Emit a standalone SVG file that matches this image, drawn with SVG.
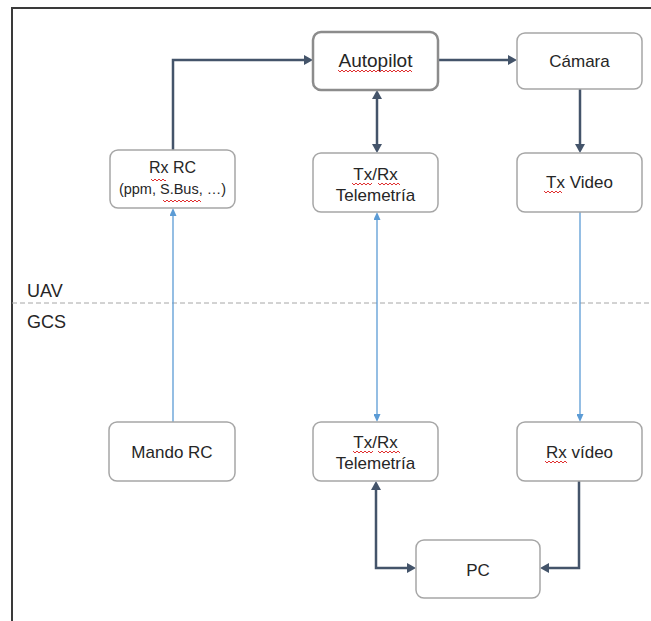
<svg xmlns="http://www.w3.org/2000/svg" width="651" height="621" viewBox="0 0 651 621">
  <style>
    .box { fill: #ffffff; stroke: #a6a6a6; stroke-width: 1.5; }
    .box-main { fill: #ffffff; stroke: #8c8c8c; stroke-width: 2.5; }
    .lbl { font-family: "Liberation Sans", Arial, sans-serif; font-size: 17px; fill: #262626; text-anchor: middle; }
    .side { font-family: "Liberation Sans", Arial, sans-serif; font-size: 18px; fill: #262626; }
    .link { fill: none; stroke: #44546a; stroke-width: 2.5; }
    .radio { fill: none; stroke: #5b9bd5; stroke-width: 1.3; }
    .squig { fill: none; stroke: #e03030; stroke-width: 1; }
  </style>
  <defs>
    <marker id="dark" viewBox="0 0 9 10" refX="0" refY="5" markerWidth="9" markerHeight="10" markerUnits="userSpaceOnUse" orient="auto-start-reverse">
      <path d="M0,0 L9,5 L0,10 z" fill="#44546a"/>
    </marker>
    <marker id="blue" viewBox="0 0 8 7" refX="0" refY="3.5" markerWidth="8" markerHeight="7" markerUnits="userSpaceOnUse" orient="auto-start-reverse">
      <path d="M0,0 L8,3.5 L0,7 z" fill="#5b9bd5"/>
    </marker>
  </defs>

  <rect width="651" height="621" fill="#ffffff"/>
  <!-- frame -->
  <path d="M12,621 V8 H651" fill="none" stroke="#3a3a3a" stroke-width="2"/>

  <!-- UAV / GCS divider -->
  <line x1="12" y1="303" x2="651" y2="303" stroke="#a6a6a6" stroke-width="1" stroke-dasharray="5 3"/>
  <text class="side" x="27" y="297">UAV</text>
  <text class="side" x="27" y="328">GCS</text>

  <!-- connectors -->
  <g id="connectors">
    <path class="link" d="M173,150 V60 H304" marker-end="url(#dark)"/>
    <path class="link" d="M438,60 H508" marker-end="url(#dark)"/>
    <path class="link" d="M377,99 V144" marker-start="url(#dark)" marker-end="url(#dark)"/>
    <path class="link" d="M580,89 V144" marker-end="url(#dark)"/>
    <path class="link" d="M376,490 V568 H407" marker-start="url(#dark)" marker-end="url(#dark)"/>
    <path class="link" d="M579,481 V568 H549" marker-end="url(#dark)"/>
    <path class="radio" d="M173,422 V216" marker-end="url(#blue)"/>
    <path class="radio" d="M377,220 V414" marker-start="url(#blue)" marker-end="url(#blue)"/>
    <path class="radio" d="M580,212 V414" marker-end="url(#blue)"/>
  </g>

  <!-- UAV side -->
  <g id="autopilot">
    <rect class="box-main" x="313" y="32" width="125" height="58" rx="8"/>
    <text class="lbl" x="375.5" y="67" style="font-size:19px">Autopilot</text>
    <path class="squig" d="M338,70 l2,2 l2,-2 l2,2 l2,-2 l2,2 l2,-2 l2,2 l2,-2 l2,2 l2,-2 l2,2 l2,-2 l2,2 l2,-2 l2,2 l2,-2 l2,2 l2,-2 l2,2 l2,-2 l2,2 l2,-2 l2,2 l2,-2 l2,2 l2,-2 l2,2 l2,-2 l2,2 l2,-2 l2,2 l2,-2 l2,2 l2,-2 l2,2 l2,-2 l2,2"/>
  </g>
  <g id="camara">
    <rect class="box" x="517" y="33" width="125" height="56" rx="8"/>
    <text class="lbl" x="579.5" y="67">Cámara</text>
  </g>
  <g id="rx-rc">
    <rect class="box" x="110" y="150" width="125" height="58" rx="8"/>
    <text class="lbl" x="172.5" y="173" style="font-size:16px">Rx RC</text>
    <text class="lbl" x="172.5" y="194" style="font-size:14.5px">(ppm, S.Bus, …)</text>
    <path class="squig" d="M151,179 l2,2 l2,-2 l2,2 l2,-2 l2,2 l2,-2 l2,2 l1,-1"/>
    <path class="squig" d="M163,200 l2,2 l2,-2 l2,2 l2,-2 l2,2 l2,-2 l2,2 l2,-2 l2,2 l2,-2 l2,2 l2,-2 l2,2 l2,-2 l2,2 l2,-2 l2,2 l2,-2 l2,2"/>
  </g>
  <g id="telemetria-uav">
    <rect class="box" x="313" y="153" width="125" height="59" rx="8"/>
    <text class="lbl" x="375.5" y="180">Tx/Rx</text>
    <text class="lbl" x="375.5" y="201">Telemetría</text>
    <path class="squig" d="M352,183 l2,2 l2,-2 l2,2 l2,-2 l2,2 l2,-2 l2,2 l2,-2 l2,2 l2,-2"/>
    <path class="squig" d="M378,183 l2,2 l2,-2 l2,2 l2,-2 l2,2 l2,-2 l2,2 l2,-2 l2,2 l2,-2 l2,2"/>
  </g>
  <g id="tx-video">
    <rect class="box" x="517" y="153" width="125" height="59" rx="8"/>
    <text class="lbl" x="579.5" y="188">Tx Video</text>
    <path class="squig" d="M544,191 l2,2 l2,-2 l2,2 l2,-2 l2,2 l2,-2 l2,2 l2,-2 l2,2"/>
  </g>

  <!-- GCS side -->
  <g id="mando-rc">
    <rect class="box" x="109" y="422" width="126" height="59" rx="8"/>
    <text class="lbl" x="172" y="458">Mando RC</text>
  </g>
  <g id="telemetria-gcs">
    <rect class="box" x="313" y="422" width="125" height="59" rx="8"/>
    <text class="lbl" x="375.5" y="448">Tx/Rx</text>
    <text class="lbl" x="375.5" y="469">Telemetría</text>
    <path class="squig" d="M353,451 l2,2 l2,-2 l2,2 l2,-2 l2,2 l2,-2 l2,2 l2,-2 l2,2 l2,-2"/>
    <path class="squig" d="M378,451 l2,2 l2,-2 l2,2 l2,-2 l2,2 l2,-2 l2,2 l2,-2 l2,2 l2,-2 l2,2"/>
  </g>
  <g id="rx-video">
    <rect class="box" x="517" y="422" width="125" height="59" rx="8"/>
    <text class="lbl" x="579.5" y="458">Rx vídeo</text>
    <path class="squig" d="M545,461 l2,2 l2,-2 l2,2 l2,-2 l2,2 l2,-2 l2,2 l2,-2 l2,2 l2,-2 l2,2"/>
  </g>
  <g id="pc">
    <rect class="box" x="416" y="540" width="124" height="58" rx="8"/>
    <text class="lbl" x="478" y="576">PC</text>
  </g>
</svg>
